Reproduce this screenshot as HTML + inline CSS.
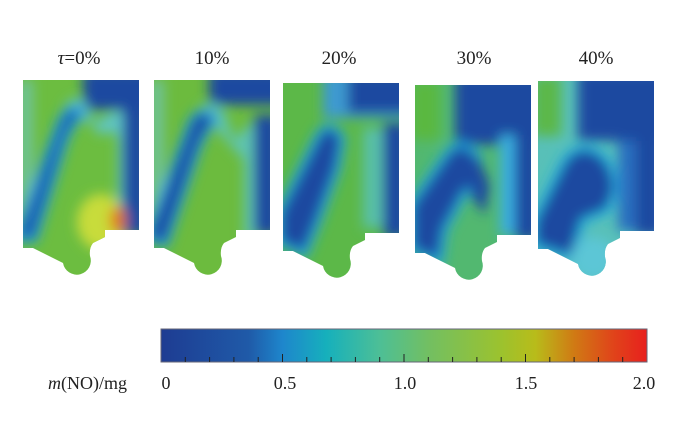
<!DOCTYPE html>
<html><head><meta charset="utf-8"><style>
html,body{margin:0;padding:0;background:#fff;width:697px;height:422px;overflow:hidden}
svg{display:block}
text{font-family:"Liberation Serif",serif;fill:#222}
</style></head><body>
<svg width="697" height="422" viewBox="0 0 697 422">
<defs>
<clipPath id="sh"><path d="M0,0 H116 V150 H82 V157 L70,163 Q66,168 67,176 A14,14 0 1 1 40,183 L10,168 H0 Z"/></clipPath>
<filter id="b" x="-50%" y="-50%" width="200%" height="200%"><feGaussianBlur stdDeviation="6"/></filter>
<linearGradient id="cb" x1="0" x2="1">
<stop offset="0" stop-color="#1e3c92"/><stop offset="0.18" stop-color="#1f5aa8"/><stop offset="0.25" stop-color="#1e86cc"/><stop offset="0.34" stop-color="#16b0bc"/><stop offset="0.45" stop-color="#4dbf96"/><stop offset="0.55" stop-color="#72bf62"/><stop offset="0.7" stop-color="#9cc22e"/><stop offset="0.77" stop-color="#b8bc1a"/><stop offset="0.85" stop-color="#d07a14"/><stop offset="0.93" stop-color="#e0441a"/><stop offset="1" stop-color="#e8201e"/>
</linearGradient>
</defs>

<text x="79" y="64" font-size="19" text-anchor="middle"><tspan font-style="italic">τ</tspan>=0%</text>
<text x="212" y="64" font-size="19" text-anchor="middle">10%</text>
<text x="339" y="64" font-size="19" text-anchor="middle">20%</text>
<text x="474" y="64" font-size="19" text-anchor="middle">30%</text>
<text x="596" y="64" font-size="19" text-anchor="middle">40%</text>

<!-- P1 -->
<g transform="translate(23,80)"><g clip-path="url(#sh)">
<rect x="-5" y="-5" width="130" height="210" fill="#6cbd40"/>
<g filter="url(#b)">
<rect x="-4" y="0" width="14" height="150" fill="#6fc39a"/>
<rect x="60" y="-10" width="70" height="40" fill="#1f48a0"/>
<path d="M40,30 Q50,12 62,22 L72,45 Q80,35 100,30 V160 H95 V60 L90,50 Q75,60 70,45" fill="#5ec4c4"/>
<path d="M36,42 Q48,18 60,34 Q50,42 42,62 L12,160 L-5,160 L-5,150 Z" fill="#1f5aaa" stroke="#1e9fe0" stroke-width="5"/>
<rect x="100" y="30" width="25" height="125" fill="#1f48a0"/>
<ellipse cx="78" cy="142" rx="24" ry="28" fill="#c8dc3a"/>
<ellipse cx="95" cy="140" rx="8" ry="14" fill="#e07a18"/>
</g></g></g>

<!-- P2 -->
<g transform="translate(154,80)"><g clip-path="url(#sh)">
<rect x="-5" y="-5" width="130" height="210" fill="#6cbb3e"/>
<g filter="url(#b)">
<rect x="-4" y="0" width="14" height="150" fill="#6fc39a"/>
<rect x="55" y="-10" width="75" height="35" fill="#1f48a0"/>
<path d="M45,30 Q55,15 70,30 L80,60 L100,40 V160 H90 V80" fill="#5ec4b0"/>
<path d="M36,42 Q48,22 62,40 Q52,50 44,70 L12,165 L-5,160 L-5,150 Z" fill="#1f48a0" stroke="#1e9fe0" stroke-width="5"/>
<rect x="100" y="35" width="25" height="120" fill="#1f48a0"/>
</g></g></g>

<!-- P3 -->
<g transform="translate(283,83)"><g clip-path="url(#sh)">
<rect x="-5" y="-5" width="130" height="210" fill="#5cb848"/>
<g filter="url(#b)">
<rect x="40" y="-10" width="90" height="45" fill="#3e9ad0"/>
<rect x="65" y="-10" width="65" height="40" fill="#1f48a0"/>
<path d="M33,55 Q45,32 60,55 L55,85 L35,140 L22,172 L-5,160 V130 Z" fill="#1f48a0" stroke="#22a8de" stroke-width="6"/>
<rect x="80" y="45" width="22" height="100" fill="#58c0a8"/>
<rect x="100" y="40" width="25" height="115" fill="#1f48a0"/>
</g></g></g>

<!-- P4 -->
<g transform="translate(415,85)"><g clip-path="url(#sh)">
<rect x="-5" y="-5" width="130" height="210" fill="#52b870"/>
<g filter="url(#b)">
<rect x="-5" y="-5" width="30" height="60" fill="#5ab840"/>
<rect x="40" y="-10" width="90" height="70" fill="#1f48a0"/>
<path d="M30,70 Q45,48 64,72 L65,100 L50,108 L30,145 L25,178 L-5,165 V120 Z" fill="#1f48a0" stroke="#22a8de" stroke-width="6"/>
<path d="M62,70 L75,100 L70,130 L55,110 Z" fill="#1f48a0"/>
<rect x="85" y="50" width="15" height="100" fill="#3aaee0"/>
<rect x="100" y="30" width="25" height="125" fill="#1f48a0"/>
</g></g></g>

<!-- P5 -->
<g transform="translate(538,81)"><g clip-path="url(#sh)">
<rect x="-5" y="-5" width="130" height="210" fill="#58c0b8"/>
<g filter="url(#b)">
<rect x="-5" y="-5" width="28" height="60" fill="#5cb848"/>
<rect x="40" y="-10" width="90" height="70" fill="#1f48a0"/>
<path d="M25,80 Q40,58 62,72 Q78,85 78,110 L70,130 L45,140 L35,178 L-5,165 V140 Z" fill="#1f48a0" stroke="#28b0e0" stroke-width="6"/>
<rect x="80" y="60" width="18" height="90" fill="#2a70c0"/>
<rect x="98" y="30" width="27" height="125" fill="#1f48a0"/>
<ellipse cx="55" cy="178" rx="22" ry="22" fill="#5cc6d6"/>
</g></g></g>

<!-- colorbar -->
<rect x="161" y="329" width="486" height="33" fill="url(#cb)" stroke="#667" stroke-width="1"/>
<g stroke="#222" stroke-width="1">
<path d="M185.3,362v-5M209.6,362v-5M233.9,362v-5M258.2,362v-5M306.8,362v-5M331.1,362v-5M355.4,362v-5M379.7,362v-5M428.3,362v-5M452.6,362v-5M476.9,362v-5M501.2,362v-5M549.8,362v-5M574.1,362v-5M598.4,362v-5M622.7,362v-5"/>
<path d="M282.5,362v-8M404,362v-8M525.5,362v-8"/>
</g>
<text x="48" y="389" font-size="18"><tspan font-style="italic">m</tspan>(NO)/mg</text>
<text x="166" y="389" font-size="18" text-anchor="middle">0</text>
<text x="285" y="389" font-size="18" text-anchor="middle">0.5</text>
<text x="405" y="389" font-size="18" text-anchor="middle">1.0</text>
<text x="526" y="389" font-size="18" text-anchor="middle">1.5</text>
<text x="644" y="389" font-size="18" text-anchor="middle">2.0</text>
</svg>
</body></html>
